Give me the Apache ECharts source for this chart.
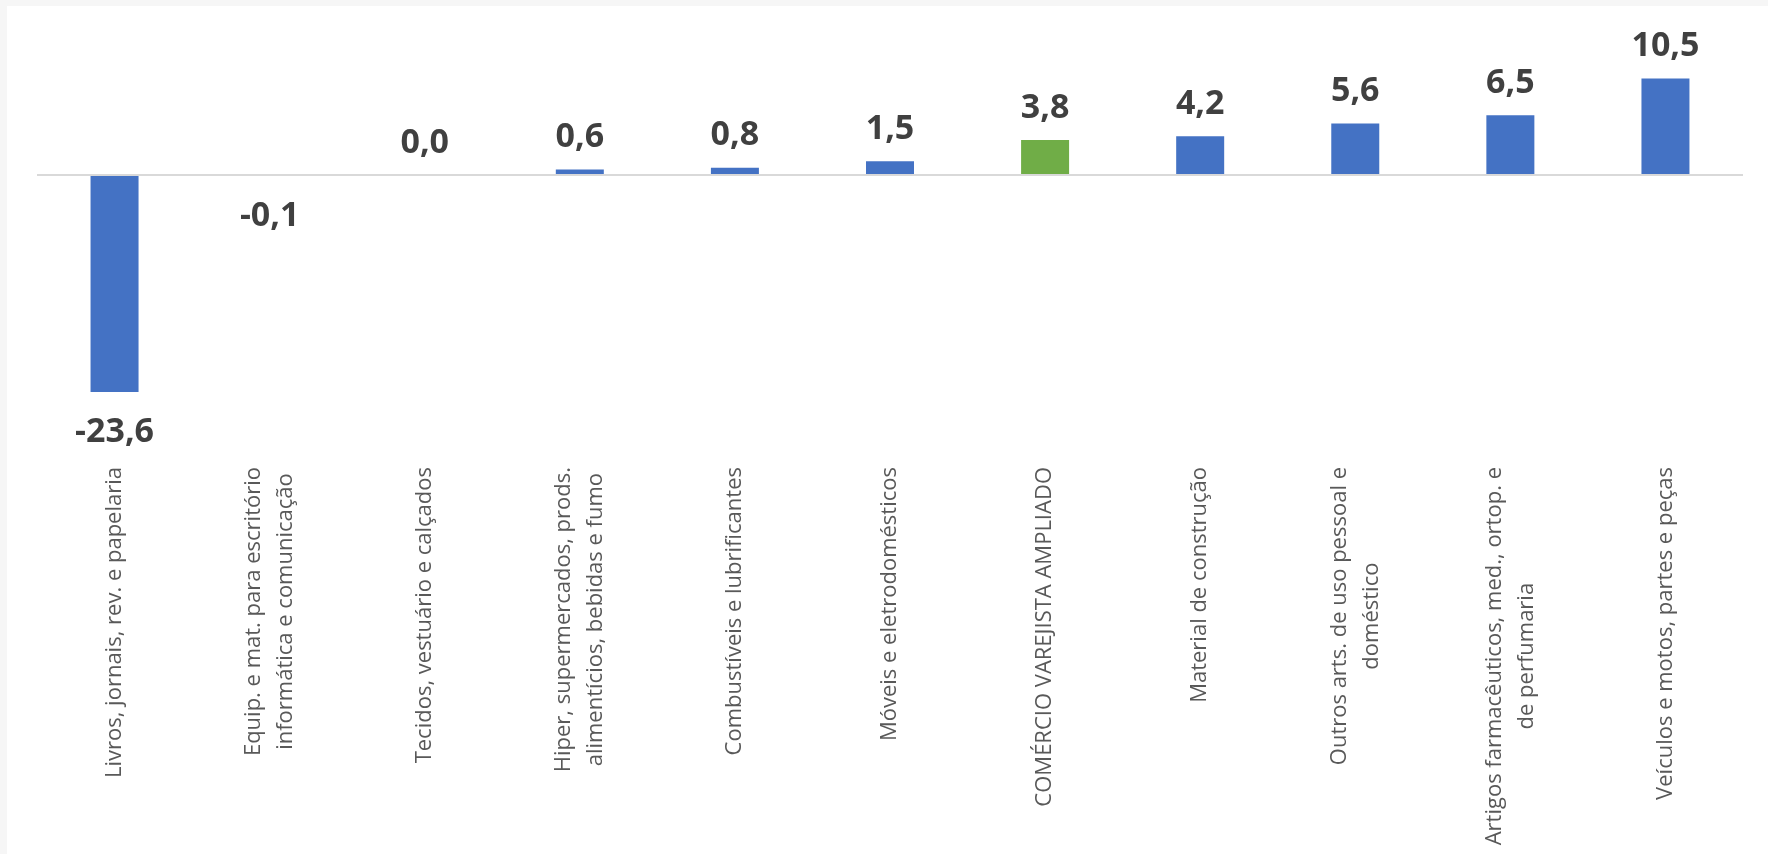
<!DOCTYPE html>
<html>
<head>
<meta charset="utf-8">
<script src="https://cdn.jsdelivr.net/npm/echarts@6/dist/echarts.min.js"></script>
<style>
  html, body { margin: 0; padding: 0; background: #f6f6f6; width: 1768px; height: 854px; overflow: hidden; }
  #chart { position: absolute; left: 7px; top: 6px; width: 1761px; height: 848px; background: #ffffff; }
</style>
</head>
<body>
<div id="chart"></div>
<script>
const categories = [
  'Livros, jornais, rev. e papelaria',
  'Equip. e mat. para escritório\ninformática e comunicação',
  'Tecidos, vestuário e calçados',
  'Hiper, supermercados, prods.\nalimentícios, bebidas e fumo',
  'Combustíveis e lubrificantes',
  'Móveis e eletrodomésticos',
  'COMÉRCIO VAREJISTA AMPLIADO',
  'Material de construção',
  'Outros arts. de uso pessoal e\ndoméstico',
  'Artigos farmacêuticos, med., ortop. e\nde perfumaria',
  'Veículos e motos, partes e peças'
];
const values = [-23.6, -0.1, 0.0, 0.6, 0.8, 1.5, 3.8, 4.2, 5.6, 6.5, 10.5];
const highlightCategory = 'COMÉRCIO VAREJISTA AMPLIADO';

const BLUE = '#4472C4';
const GREEN = '#70AD47';

const chart = echarts.init(document.getElementById('chart'), null, { renderer: 'canvas' });

const seriesData = values.map(v => ({
  value: v,
  label: v < 0 ? { position: 'bottom', distance: 23 } : { position: 'top', distance: 15 }
}));

chart.setOption({
  animation: false,
  backgroundColor: '#ffffff',
  grid: { left: 30, right: 25, top: 31, height: 414, containLabel: false },
  xAxis: {
    type: 'category',
    data: categories,
    axisLine: { show: false },
    axisTick: { show: false },
    axisLabel: {
      rotate: 90,
      margin: 16,
      interval: 0,
      color: '#595959',
      fontFamily: 'Open Sans',
      fontSize: 22,
      lineHeight: 32,
      formatter: v => v.split('\n').map(l => '{c|' + l + '}').join('\n'),
      rich: {
        c: { align: 'center', color: '#595959', fontFamily: 'Open Sans', fontSize: 22, lineHeight: 32 }
      }
    }
  },
  yAxis: {
    type: 'value',
    min: -30,
    max: 15,
    show: false
  },
  series: [{
    type: 'bar',
    data: seriesData,
    barWidth: 48,
    itemStyle: {
      color: p => p.name === highlightCategory ? GREEN : BLUE
    },
    label: {
      show: true,
      color: '#404040',
      fontFamily: 'Open Sans',
      fontWeight: 'bold',
      fontSize: 34,
      formatter: p => p.value.toFixed(1).replace('.', ',')
    },
    markLine: {
      silent: true,
      symbol: 'none',
      label: { show: false },
      lineStyle: { color: '#d9d9d9', width: 2, type: 'solid' },
      data: [{ yAxis: 0 }]
    }
  }]
});
</script>
</body>
</html>
